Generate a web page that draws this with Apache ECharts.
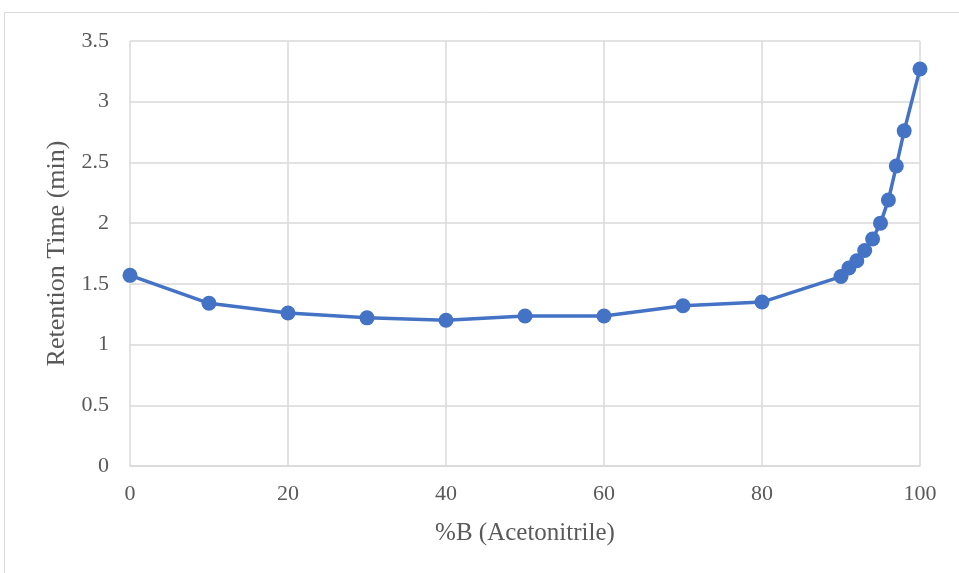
<!DOCTYPE html>
<html>
<head>
<meta charset="utf-8">
<script src="https://cdn.jsdelivr.net/npm/echarts@6/dist/echarts.min.js"></script>
<style>
  html, body { margin: 0; padding: 0; background: #fff; }
  #chart { width: 959px; height: 573px; }
</style>
</head>
<body>
<div id="chart"></div>
<script>
// %B (acetonitrile) in the mobile phase
const percentB = [0, 10, 20, 30, 40, 50, 60, 70, 80, 90, 91, 92, 93, 94, 95, 96, 97, 98, 100];
// Retention time in minutes
const retentionTime = [1.57, 1.34, 1.26, 1.22, 1.20, 1.235, 1.235, 1.32, 1.35, 1.56, 1.63, 1.69, 1.775, 1.87, 2.00, 2.19, 2.47, 2.76, 3.27];

const xTitle = '%B (Acetonitrile)';
const yTitle = 'Retention Time (min)';

const font = '"Liberation Serif", "Times New Roman", serif';
const gridColor = '#d9d9d9';
const textColor = '#595959';

const chart = echarts.init(document.getElementById('chart'), null, { renderer: 'canvas' });

chart.setOption({
  animation: false,
  backgroundColor: '#fff',
  graphic: [{
    type: 'rect',
    shape: { x: 4.5, y: 12.5, width: 1000, height: 1000 },
    style: { fill: 'none', stroke: gridColor, lineWidth: 1 },
    silent: true
  }],
  grid: { left: 130, right: 39, top: 41, bottom: 107, containLabel: false },
  xAxis: {
    type: 'value',
    min: 0, max: 100, interval: 20,
    name: xTitle,
    nameLocation: 'middle',
    nameGap: 55,
    nameTextStyle: { fontFamily: font, fontSize: 25, color: textColor },
    axisLine: { show: true, lineStyle: { color: gridColor, width: 1.5 } },
    axisTick: { show: false },
    axisLabel: { fontFamily: font, fontSize: 22, color: textColor, margin: 17 },
    splitLine: { show: true, lineStyle: { color: gridColor, width: 1.5 } }
  },
  yAxis: {
    type: 'value',
    min: 0, max: 3.5, interval: 0.5,
    name: yTitle,
    nameLocation: 'middle',
    nameGap: 51,
    nameTextStyle: { fontFamily: font, fontSize: 26, color: textColor },
    axisLine: { show: false },
    axisTick: { show: false },
    axisLabel: { fontFamily: font, fontSize: 22, color: textColor, margin: 21 },
    splitLine: { show: true, lineStyle: { color: gridColor, width: 1.5 } }
  },
  series: [{
    type: 'line',
    data: percentB.map((x, i) => [x, retentionTime[i]]),
    symbol: 'circle',
    symbolSize: 15,
    itemStyle: { color: '#4472C4' },
    lineStyle: { color: '#4472C4', width: 3.5 },
    z: 3
  }]
});
</script>
</body>
</html>
